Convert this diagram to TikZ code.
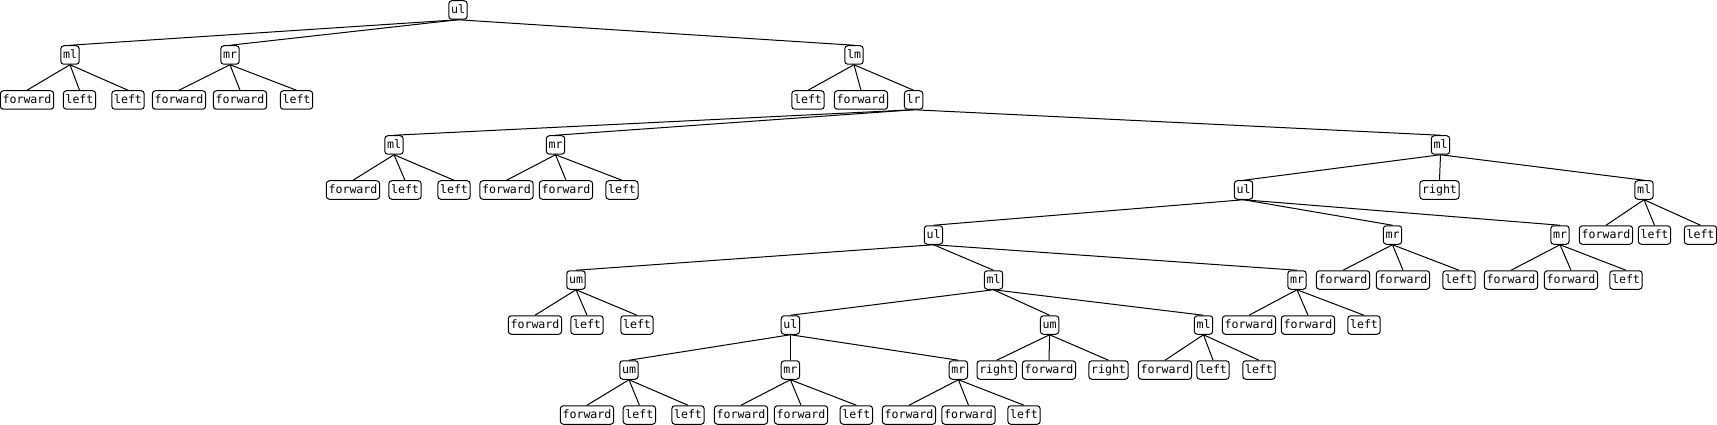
\documentclass[tikz,border=0pt]{standalone}
\usepackage{fontspec}
\setmonofont{DejaVu Sans Mono}
\tikzset{
  t/.style={draw, rounded corners=3pt, fill=white, font=\ttfamily\fontsize{11.6}{12}\selectfont,
    inner xsep=2.2pt, inner ysep=0pt, text height=8.8pt, text depth=2.6pt,
    minimum height=18.5pt, line width=1pt},
  edge/.style={line width=1pt}
}
\begin{document}
\begin{tikzpicture}[x=1pt,y=-1pt]
\useasboundingbox (0,0) rectangle (1717,425);
% level 0
\node[t] (r) at (458,10) {ul};
% level 1
\node[t] (a) at (70,55) {ml};
\node[t] (b) at (230,55) {mr};
\node[t] (c) at (854,55) {lm};
% level 2
\node[t] (a1) at (27,100) {forward};
\node[t] (a2) at (79.5,100) {left};
\node[t] (a3) at (128,100) {left};
\node[t] (b1) at (179,100) {forward};
\node[t] (b2) at (240,100) {forward};
\node[t] (b3) at (296.5,100) {left};
\node[t] (c1) at (808,100) {left};
\node[t] (c2) at (861,100) {forward};
\node[t] (c3) at (913.6,100) {lr};
% level 3
\node[t] (d) at (394,145) {ml};
\node[t] (e) at (555.5,145) {mr};
\node[t] (f) at (1440.5,145) {ml};
% level 4
\node[t] (d1) at (353,190) {forward};
\node[t] (d2) at (405,190) {left};
\node[t] (d3) at (454,190) {left};
\node[t] (e1) at (506.5,190) {forward};
\node[t] (e2) at (566,190) {forward};
\node[t] (e3) at (622,190) {left};
\node[t] (f1) at (1243.5,190) {ul};
\node[t] (f2) at (1439.5,190) {right};
\node[t] (f3) at (1644,190) {ml};
% level 5
\node[t] (g) at (933.5,235) {ul};
\node[t] (h) at (1392.5,235) {mr};
\node[t] (i) at (1560,235) {mr};
\node[t] (j1) at (1606,235) {forward};
\node[t] (j2) at (1654.5,235) {left};
\node[t] (j3) at (1700.5,235) {left};
% level 6
\node[t] (g1) at (576,280) {um};
\node[t] (g2) at (993.5,280) {ml};
\node[t] (g3) at (1297,280) {mr};
\node[t] (h1) at (1343,280) {forward};
\node[t] (h2) at (1403,280) {forward};
\node[t] (h3) at (1459,280) {left};
\node[t] (i1) at (1511,280) {forward};
\node[t] (i2) at (1571,280) {forward};
\node[t] (i3) at (1626,280) {left};
% level 7
\node[t] (k1) at (535,325) {forward};
\node[t] (k2) at (587,325) {left};
\node[t] (k3) at (637,325) {left};
\node[t] (l1) at (790.4,325) {ul};
\node[t] (l2) at (1049.6,325) {um};
\node[t] (l3) at (1203.5,325) {ml};
\node[t] (m1) at (1249,325) {forward};
\node[t] (m2) at (1308,325) {forward};
\node[t] (m3) at (1364,325) {left};
% level 8
\node[t] (n1) at (629,370) {um};
\node[t] (n2) at (790.4,370) {mr};
\node[t] (n3) at (958.4,370) {mr};
\node[t] (o1) at (996.7,370) {right};
\node[t] (o2) at (1049,370) {forward};
\node[t] (o3) at (1108.5,370) {right};
\node[t] (p1) at (1165,370) {forward};
\node[t] (p2) at (1213,370) {left};
\node[t] (p3) at (1259,370) {left};
% level 9
\node[t] (q1) at (587,415) {forward};
\node[t] (q2) at (639.4,415) {left};
\node[t] (q3) at (688,415) {left};
\node[t] (s1) at (741,415) {forward};
\node[t] (s2) at (801,415) {forward};
\node[t] (s3) at (856.4,415) {left};
\node[t] (u1) at (909,415) {forward};
\node[t] (u2) at (968.5,415) {forward};
\node[t] (u3) at (1024,415) {left};
% edges
\foreach \p/\c in {r/a,r/b,r/c,a/a1,a/a2,a/a3,b/b1,b/b2,b/b3,c/c1,c/c2,c/c3,
  c3/d,c3/e,c3/f,d/d1,d/d2,d/d3,e/e1,e/e2,e/e3,f/f1,f/f2,f/f3,
  f1/g,f1/h,f1/i,f3/j1,f3/j2,f3/j3,g/g1,g/g2,g/g3,h/h1,h/h2,h/h3,i/i1,i/i2,i/i3,
  g1/k1,g1/k2,g1/k3,g2/l1,g2/l2,g2/l3,g3/m1,g3/m2,g3/m3,
  l1/n1,l1/n2,l1/n3,l2/o1,l2/o2,l2/o3,l3/p1,l3/p2,l3/p3,
  n1/q1,n1/q2,n1/q3,n2/s1,n2/s2,n2/s3,n3/u1,n3/u2,n3/u3}
  \draw[edge] (\p.south) -- (\c.north);
\end{tikzpicture}
\end{document}
